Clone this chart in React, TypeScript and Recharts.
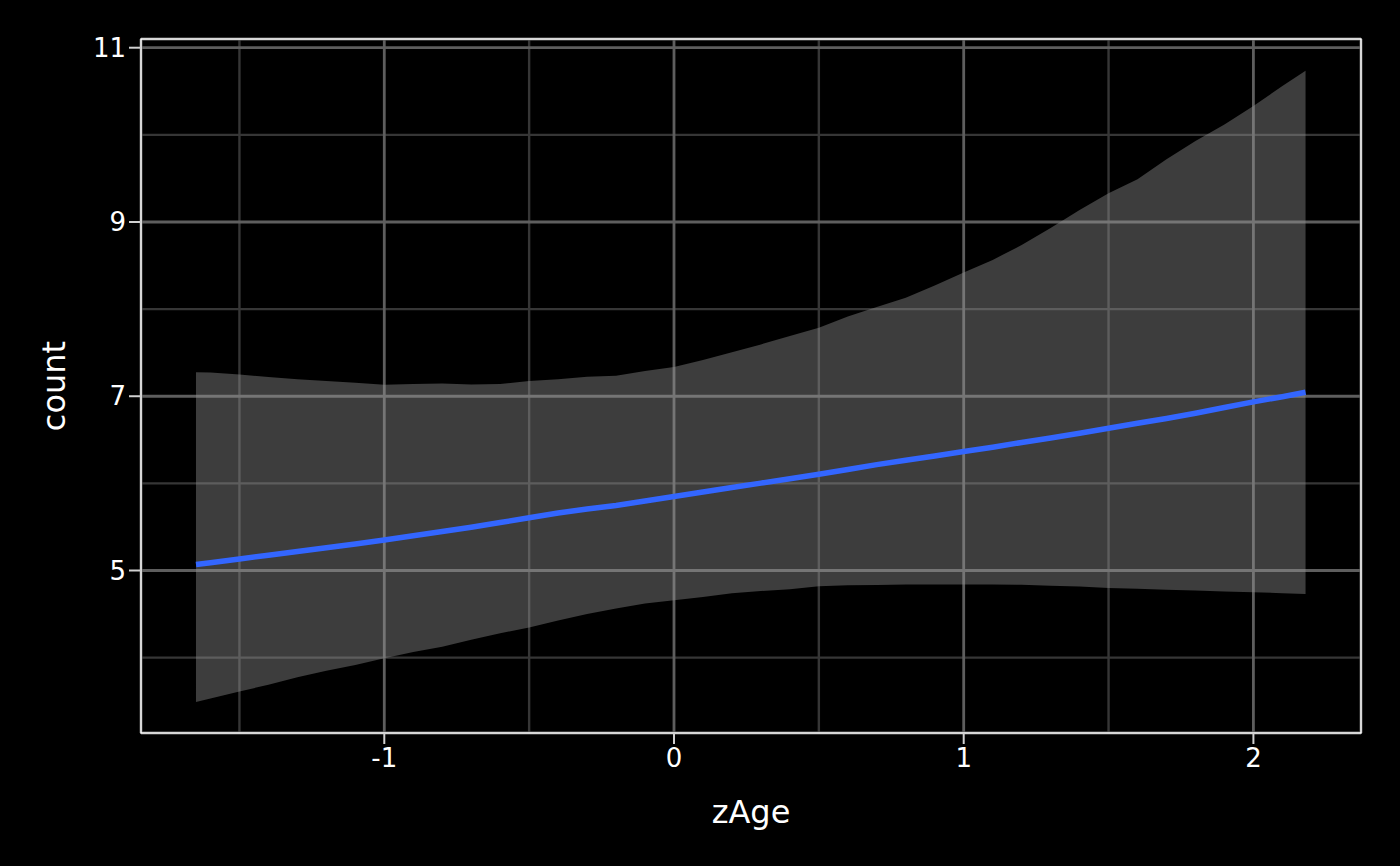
import React from 'react';
import { ComposedChart, Area, Line, XAxis, YAxis, CartesianGrid, ReferenceArea, Label } from 'recharts';

const zAge = [
  -1.65, -1.6, -1.5, -1.4, -1.3, -1.2, -1.1, -1.0, -0.9, -0.8, -0.7, -0.6, -0.5, -0.4, -0.3, -0.2, -0.1,
  0.0, 0.1, 0.2, 0.3, 0.4, 0.5, 0.6, 0.7, 0.8, 0.9, 1.0, 1.1, 1.2, 1.3, 1.4, 1.5, 1.6, 1.7, 1.8, 1.9,
  2.0, 2.1, 2.18,
];
const fitCount = [
  5.068, 5.09, 5.133, 5.176, 5.219, 5.262, 5.305, 5.35, 5.398, 5.447, 5.497, 5.55, 5.605, 5.66, 5.705, 5.745, 5.797,
  5.85, 5.9, 5.952, 6.003, 6.053, 6.105, 6.16, 6.215, 6.265, 6.315, 6.365, 6.415, 6.47, 6.52, 6.575, 6.632, 6.69, 6.745, 6.805, 6.87,
  6.935, 6.995, 7.046,
];
const lowerCI = [
  3.49, 3.53, 3.61, 3.69, 3.775, 3.85, 3.915, 3.994, 4.065, 4.125, 4.205, 4.28, 4.345, 4.425, 4.5, 4.565, 4.62,
  4.66, 4.695, 4.74, 4.765, 4.785, 4.82, 4.83, 4.835, 4.838, 4.84, 4.84, 4.84, 4.837, 4.825, 4.815, 4.8, 4.79, 4.78, 4.77, 4.76,
  4.75, 4.74, 4.73,
];
const upperCI = [
  7.275, 7.272, 7.25, 7.22, 7.195, 7.175, 7.155, 7.133, 7.14, 7.145, 7.135, 7.14, 7.175, 7.195, 7.225, 7.236, 7.29,
  7.335, 7.415, 7.505, 7.595, 7.69, 7.787, 7.915, 8.025, 8.13, 8.27, 8.42, 8.565, 8.735, 8.93, 9.137, 9.33, 9.49, 9.72, 9.93, 10.12,
  10.33, 10.56, 10.735,
];

const xMajorTicks = [-1, 0, 1, 2];
const xMinorTicks = [-1.5, -0.5, 0.5, 1.5];
const yMajorTicks = [5, 7, 9, 11];
const yMinorTicks = [4, 6, 8, 10];
const xDomain: [number, number] = [-1.8398, 2.3714];
const yDomain: [number, number] = [3.135, 11.1];

const xTitle = 'zAge';
const yTitle = 'count';

const data = zAge.map((x, i) => ({
  zAge: x,
  fit: fitCount[i],
  band: [lowerCI[i], upperCI[i]],
}));

const FONT = 'DejaVu Sans, sans-serif';

const XTitle = (props: any) => {
  const vb = props.viewBox || { x: 141, y: 733, width: 1220, height: 100 };
  return (
    <text x={vb.x + vb.width / 2} y={vb.y + 89.5} textAnchor="middle" fill="#ffffff" fontSize={32} fontFamily={FONT}>
      {xTitle}
    </text>
  );
};

const YTitle = (props: any) => {
  const vb = props.viewBox || { x: 21, y: 39, width: 120, height: 694 };
  const cx = vb.x + 44;
  const cy = vb.y + vb.height / 2;
  return (
    <text x={cx} y={cy} transform={`rotate(-90, ${cx}, ${cy})`} textAnchor="middle" fill="#ffffff" fontSize={32} fontFamily={FONT}>
      {yTitle}
    </text>
  );
};

export default function App() {
  return (
    <div style={{ position: 'absolute', left: 0, top: 0, width: 1400, height: 866, background: '#000000', fontFamily: FONT }}>
      <ComposedChart width={1400} height={866} data={data} margin={{ top: 39, right: 39, bottom: 33, left: 21 }}>
        <XAxis xAxisId="minor" dataKey="zAge" type="number" domain={xDomain} ticks={xMinorTicks} allowDataOverflow hide />
        <YAxis yAxisId="minor" type="number" domain={yDomain} ticks={yMinorTicks} allowDataOverflow hide />
        <CartesianGrid xAxisId="minor" yAxisId="minor" stroke="#363636" strokeWidth={2.4} />
        <XAxis
          dataKey="zAge"
          type="number"
          domain={xDomain}
          ticks={xMajorTicks}
          allowDataOverflow
          height={100}
          tickSize={11}
          tickMargin={5}
          axisLine={false}
          tickLine={{ stroke: '#d0d0d0', strokeWidth: 2 }}
          tick={{ fill: '#ffffff', fontSize: 26, fontFamily: FONT }}
        >
          <Label content={XTitle} />
        </XAxis>
        <YAxis
          type="number"
          domain={yDomain}
          ticks={yMajorTicks}
          allowDataOverflow
          width={120}
          tickSize={12}
          tickMargin={3}
          axisLine={false}
          tickLine={{ stroke: '#d0d0d0', strokeWidth: 2 }}
          tick={{ fill: '#ffffff', fontSize: 26, fontFamily: FONT }}
        >
          <Label content={YTitle} />
        </YAxis>
        <CartesianGrid stroke="#5e5e5e" strokeWidth={2.8} />
        <Area
          dataKey="band"
          type="linear"
          stroke="none"
          fill="#999999"
          fillOpacity={0.4}
          isAnimationActive={false}
          activeDot={false}
        />
        <Line
          dataKey="fit"
          type="linear"
          stroke="#3366FF"
          strokeWidth={5.5}
          dot={false}
          activeDot={false}
          isAnimationActive={false}
        />
        <ReferenceArea
          x1={xDomain[0]}
          x2={xDomain[1]}
          y1={yDomain[0]}
          y2={yDomain[1]}
          fill="none"
          fillOpacity={0}
          stroke="#ffffff"
          strokeWidth={1.5}
          ifOverflow="visible"
        />
      </ComposedChart>
    </div>
  );
}
